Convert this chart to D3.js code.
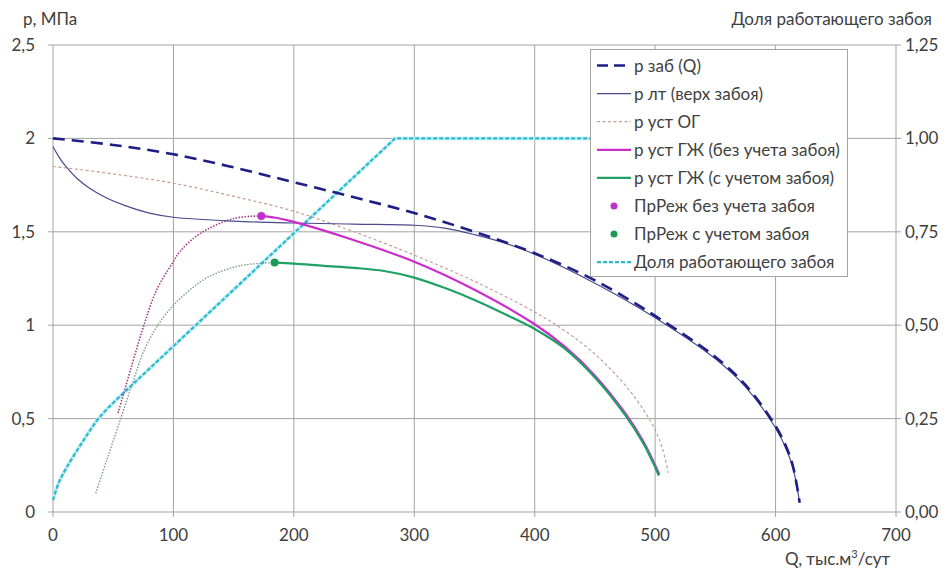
<!DOCTYPE html>
<html><head><meta charset="utf-8">
<script src="https://cdn.jsdelivr.net/npm/d3@7"></script>
<style>body{margin:0;background:#fff}svg{display:block}text{font-family:Lato,"Open Sans",sans-serif;fill:#404040}</style>
</head><body><svg id="c" width="948" height="568"></svg>
<script>
// ---- data ----
const xTicks = [0,100,200,300,400,500,600,700];
const yTicksLeft = [0,0.5,1,1.5,2,2.5];
const yTickLabelsLeft = ["0","0,5","1","1,5","2","2,5"];
const yTicksRight = [0,0.25,0.5,0.75,1,1.25];
const yTickLabelsRight = ["0,00","0,25","0,50","0,75","1,00","1,25"];

const qZab = [0,50,100,150,200,250,300,350,400,450,500,550,575,600,610,615,620];
const pZab = [2.0,1.965,1.915,1.845,1.765,1.685,1.60,1.50,1.385,1.24,1.05,0.83,0.68,0.46,0.33,0.23,0.05];

const qLt = [0,5,10,20,30,45,60,80,100,150,200,250,300,325,350,375,400,450,500,550,575,600,610,615,620];
const pLt = [1.955,1.90,1.855,1.785,1.735,1.68,1.64,1.60,1.578,1.557,1.547,1.541,1.535,1.52,1.485,1.44,1.38,1.225,1.04,0.82,0.67,0.45,0.32,0.22,0.05];

const qOg = [0,50,100,150,200,250,300,350,400,425,450,475,490,500,506,511];
const pOg = [1.85,1.81,1.76,1.69,1.61,1.50,1.375,1.235,1.07,0.97,0.845,0.68,0.55,0.44,0.34,0.21];

const qGzh = [173,185,200,250,300,350,400,425,450,475,490,500,503.5];
const pGzh = [1.585,1.575,1.553,1.455,1.34,1.19,1.005,0.885,0.73,0.53,0.38,0.25,0.2];

const qGzhZ = [184,200,225,250,275,300,325,350,375,400,425,450,475,490,500,503];
const pGzhZ = [1.335,1.33,1.318,1.307,1.29,1.255,1.20,1.135,1.06,0.98,0.875,0.72,0.52,0.37,0.24,0.195];

const qGzhExt = [54,65,75,86,99,105.5,122,150,173];
const pGzhExt = [0.53,0.775,0.99,1.188,1.331,1.395,1.49,1.571,1.585];

const qGzhZExt = [35.5,45,57,66.6,75,86,99,113,128,155,184];
const pGzhZExt = [0.10,0.285,0.515,0.70,0.855,0.99,1.10,1.185,1.255,1.318,1.335];

const prRezh1 = [173,1.585];
const prRezh2 = [184,1.335];

const qShareCurve = [0,5,11.5,25,39,61];
const shareCurve = [0.032,0.08,0.12,0.19,0.255,0.326];
const qShareLine = [61,284,620];
const shareLine = [0.326,1.0,1.0];

const legendNames = ["р заб (Q)","р лт (верх забоя)","р уст ОГ","р уст ГЖ (без учета забоя)","р уст ГЖ (с учетом забоя)","ПрРеж без учета забоя","ПрРеж с учетом забоя","Доля работающего забоя"];

// ---- drawing ----
const svg = d3.select("#c");
const L=53, R=896, T=45, B=512;
const x = d3.scaleLinear().domain([0,700]).range([L,R]);
const y = d3.scaleLinear().domain([0,2.5]).range([B,T]);
const y2 = d3.scaleLinear().domain([0,1.25]).range([B,T]);
const grid="#a3a3a3";
const FS="17px";

// grid
svg.append("g").selectAll("line").data(xTicks).join("line")
  .attr("x1",d=>x(d)).attr("x2",d=>x(d)).attr("y1",T).attr("y2",B+5).attr("stroke",grid);
svg.append("g").selectAll("line").data(yTicksLeft).join("line")
  .attr("x1",L-5).attr("x2",R+5).attr("y1",d=>y(d)).attr("y2",d=>y(d)).attr("stroke",grid);

// axes labels
const ax = svg.append("g").style("font-size",FS);
ax.selectAll(".yl").data(yTicksLeft).join("text").attr("x",35).attr("y",d=>y(d)+6)
  .attr("text-anchor","end").text((d,i)=>yTickLabelsLeft[i]);
ax.selectAll(".yr").data(yTicksRight).join("text").attr("x",905).attr("y",d=>y2(d)+6)
  .attr("text-anchor","start").text((d,i)=>yTickLabelsRight[i]);
ax.selectAll(".xl").data(xTicks).join("text").attr("x",d=>x(d)).attr("y",541)
  .attr("text-anchor","middle").text(d=>d);
ax.append("text").attr("x",23).attr("y",25).text("p, МПа");
ax.append("text").attr("x",932).attr("y",25).attr("text-anchor","end").text("Доля работающего забоя");
const qt = ax.append("text").attr("x",785).attr("y",565);
qt.append("tspan").text("Q, тыс.м");
qt.append("tspan").attr("dy",-7).style("font-size","11px").text("3");
qt.append("tspan").attr("dy",7).text("/сут");

const line = (qs,ps,sc,cv)=> d3.line().x(i=>x(qs[i])).y(i=>sc(ps[i])).curve(cv||d3.curveCatmullRom.alpha(0.5))(d3.range(qs.length));

// share (right axis)
const shareD = line(qShareCurve,shareCurve,y2) + line(qShareLine,shareLine,y2,d3.curveLinear).replace(/^M/,"L");
svg.append("path").attr("d",shareD).attr("fill","none").attr("stroke","#bdeef5").attr("stroke-width",3.5);
svg.append("path").attr("d",shareD).attr("fill","none").attr("stroke","#2fb9cf").attr("stroke-width",2.2).attr("stroke-dasharray","4,2");

// dotted extensions
svg.append("path").attr("d",line(qGzhZExt,pGzhZExt,y)).attr("fill","none").attr("stroke","#6f9a84").attr("stroke-width",1.3).attr("stroke-dasharray","1.5,1.5");
svg.append("path").attr("d",line(qGzhExt,pGzhExt,y)).attr("fill","none").attr("stroke","#a23a8a").attr("stroke-width",1.6).attr("stroke-dasharray","1.5,1.5");

// ОГ
svg.append("path").attr("d",line(qOg,pOg,y)).attr("fill","none").attr("stroke","#c6a092").attr("stroke-width",1.2).attr("stroke-dasharray","3,2.5");
// лт
svg.append("path").attr("d",line(qLt,pLt,y)).attr("fill","none").attr("stroke","#4a4a8e").attr("stroke-width",1.2);
// заб
svg.append("path").attr("d",line(qZab,pZab,y)).attr("fill","none").attr("stroke","#1e1e86").attr("stroke-width",2.6).attr("stroke-dasharray","12,7");
// ГЖ
svg.append("path").attr("d",line(qGzh,pGzh,y)).attr("fill","none").attr("stroke","#cc2ccc").attr("stroke-width",2.2);
svg.append("path").attr("d",line(qGzhZ,pGzhZ,y)).attr("fill","none").attr("stroke","#1fa065").attr("stroke-width",2.2);
// markers
svg.append("circle").attr("cx",x(prRezh1[0])).attr("cy",y(prRezh1[1])).attr("r",4).attr("fill","#c030d0");
svg.append("circle").attr("cx",x(prRezh2[0])).attr("cy",y(prRezh2[1])).attr("r",4).attr("fill","#1a9a55");

// legend
const lg = svg.append("g");
lg.append("rect").attr("x",590.5).attr("y",49.5).attr("width",257).attr("height",227).attr("fill","#fff").attr("stroke","#a3a3a3");
const styles = [
 {c:"#1e1e86",w:2.6,d:"11,6"},{c:"#4a4a8e",w:1.2,d:null},{c:"#c6a092",w:1.2,d:"3,2.5"},
 {c:"#cc2ccc",w:2.2,d:null},{c:"#1fa065",w:2.2,d:null},{m:"#c030d0"},{m:"#1a9a55"},{c:"#2fb9cf",w:2.2,d:"4,2"}];
legendNames.forEach((n,i)=>{
  const yy = 65.5 + i*28.1;
  const s = styles[i];
  if(s.m){ lg.append("circle").attr("cx",614).attr("cy",yy).attr("r",3.5).attr("fill",s.m); }
  else {
    lg.append("line").attr("x1",597).attr("x2",631).attr("y1",yy).attr("y2",yy).attr("stroke",s.c).attr("stroke-width",s.w).attr("stroke-dasharray",s.d);
  }
  lg.append("text").attr("x",634).attr("y",yy+6).style("font-size",FS).text(n);
});
</script></body></html>
